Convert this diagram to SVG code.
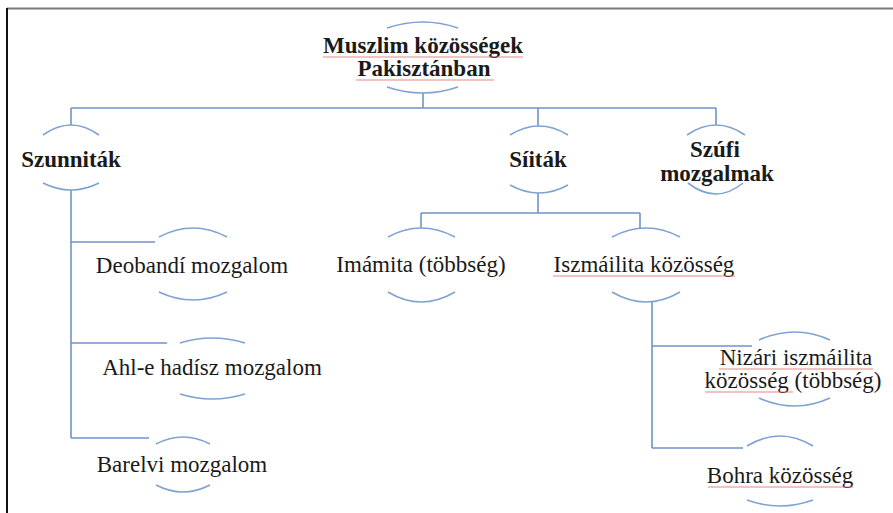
<svg xmlns="http://www.w3.org/2000/svg" width="893" height="513" viewBox="0 0 893 513" font-family="'Liberation Serif', 'Times New Roman', serif">
<style>
.t{font-size:23px;fill:#1a1a1a;text-anchor:middle}
.b{font-weight:bold}
.arc{fill:none;stroke:#7fa2d2;stroke-width:1.6}
.ln{fill:none;stroke:#6f94c9;stroke-width:1.6}
.sq{fill:none;stroke:#e06a6a;stroke-width:1;opacity:0.8}
</style>
<rect x="0" y="0" width="893" height="513" fill="#ffffff"/>
<line x1="7" y1="8.5" x2="893" y2="8.5" stroke="#7a7a7a" stroke-width="2"/>
<line x1="7" y1="8" x2="7" y2="513" stroke="#111" stroke-width="2"/>
<g id="connectors">
<path class="ln" d="M423 93 V108 M71 108 H716 M71 108 V125 M538 108 V126 M716 108 V125"/>
<path class="ln" d="M71 190 V438 M71 242 H155 M71 343 H167 M71 438 H149"/>
<path class="ln" d="M538 193 V213 M421 213 H640 M421 213 V228 M640 213 V228"/>
<path class="ln" d="M652 302 V448 M652 346 H752 M652 448 H743"/>
</g>
<g id="root">
<path class="arc" d="M387 28 Q423 16 458 28"/>
<text class="t b" x="423" y="53" font-family="Liberation Serif">Muszlim közösségek</text>
<text class="t b" x="424" y="76" font-family="Liberation Serif">Pakisztánban</text>
<path class="arc" d="M387 87 Q423 99 458 87"/>
<path class="sq" d="M323 57 H523 M356 80 H494"/>
</g>
<g id="szunnitak">
<path class="arc" d="M43 135 Q71 115 99 135"/>
<text class="t b" x="71" y="167" font-family="Liberation Serif">Szunniták</text>
<path class="arc" d="M43 183 Q71 197 99 183"/>
</g>
<g id="siitak">
<path class="arc" d="M510 135 Q539 117 568 135"/>
<text class="t b" x="538" y="167" font-family="Liberation Serif">Síiták</text>
<path class="arc" d="M510 185 Q539 201 568 185"/>
</g>
<g id="szufi">
<path class="arc" d="M687 135 Q716 115 745 135"/>
<text class="t b" x="715" y="157" font-family="Liberation Serif">Szúfi</text>
<text class="t b" x="717" y="181" font-family="Liberation Serif">mozgalmak</text>
<path class="arc" d="M688 183 Q716 205 743 183"/>
</g>
<g id="deobandi">
<path class="arc" d="M159 237 Q193 219 227 237"/>
<text class="t" x="192" y="273" font-family="Liberation Serif">Deobandí mozgalom</text>
<path class="arc" d="M159 292 Q193 308 227 292"/>
</g>
<g id="ahle">
<path class="arc" d="M180 343 Q212 333 245 343"/>
<text class="t" x="212" y="375" font-family="Liberation Serif">Ahl-e hadísz mozgalom</text>
<path class="arc" d="M180 394 Q212 404 245 394"/>
</g>
<g id="barelvi">
<path class="arc" d="M156 444 Q183 430 210 444"/>
<text class="t" x="182" y="472" font-family="Liberation Serif">Barelvi mozgalom</text>
<path class="arc" d="M156 485 Q183 499 210 485"/>
</g>
<g id="imamita">
<path class="arc" d="M388 237 Q421 219 455 237"/>
<text class="t" x="421" y="272" font-family="Liberation Serif">Imámita (többség)</text>
<path class="arc" d="M388 292 Q421 312 455 292"/>
</g>
<g id="iszmailita">
<path class="arc" d="M612 237 Q646 219 680 237"/>
<text class="t" x="644" y="272" font-family="Liberation Serif">Iszmáilita közösség</text>
<path class="arc" d="M612 292 Q646 312 680 292"/>
<path class="sq" d="M553 276 H735"/>
</g>
<g id="nizari">
<path class="arc" d="M759 340 Q795 324 830 340"/>
<text class="t" x="796" y="365" font-family="Liberation Serif">Nizári iszmáilita</text>
<text class="t" x="793" y="388" font-family="Liberation Serif">közösség (többség)</text>
<path class="arc" d="M759 398 Q795 414 830 398"/>
<path class="sq" d="M719 369 H873 M705 392 H793"/>
</g>
<g id="bohra">
<path class="arc" d="M747 446 Q780 426 813 446"/>
<text class="t" x="780" y="483" font-family="Liberation Serif">Bohra közösség</text>
<path class="arc" d="M747 500 Q780 512 813 500"/>
<path class="sq" d="M708 487 H853"/>
</g>
</svg>
